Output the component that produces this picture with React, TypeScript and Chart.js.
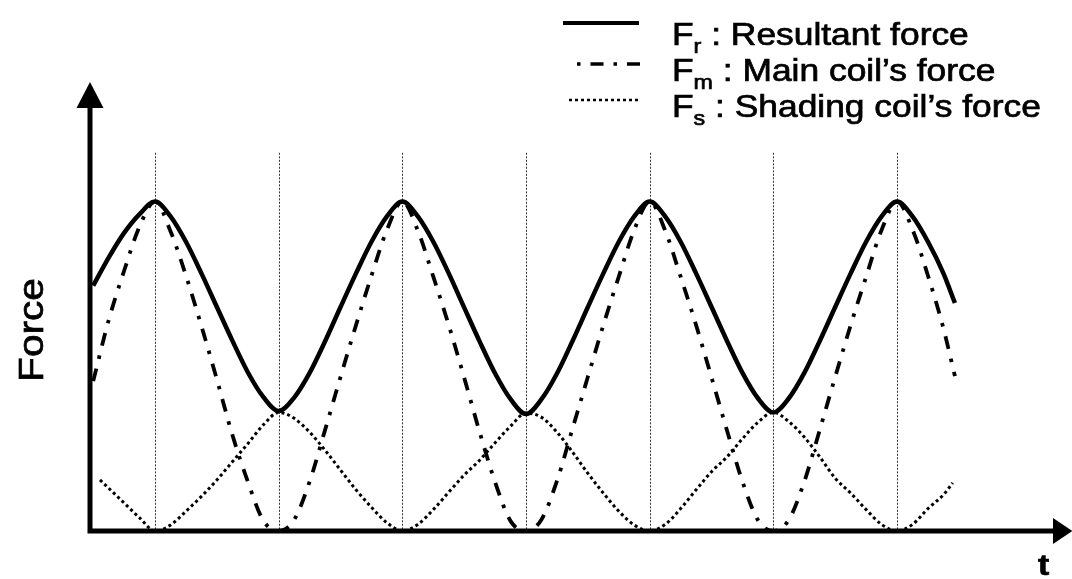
import { useEffect, useRef } from "react";
import { Chart, registerables } from "chart.js";

Chart.register(...registerables);

// Sample times (t axis units) shared by the resultant and main-coil curves
const timeSteps = [
  0, 0.125, 0.25, 0.375, 0.5, 0.625, 0.75, 0.875,
  1, 1.125, 1.25, 1.375, 1.5, 1.625, 1.75, 1.875,
  2, 2.125, 2.25, 2.375, 2.5, 2.625, 2.75, 2.875,
  3, 3.125, 3.25, 3.375, 3.5, 3.625, 3.75, 3.875,
  4, 4.125, 4.25, 4.375, 4.5, 4.625, 4.75, 4.875,
  5, 5.125, 5.25, 5.375, 5.5, 5.625, 5.75, 5.875,
  6, 6.125, 6.25, 6.375, 6.5, 6.625, 6.75, 6.875,
  6.968,
];

// F_r : resultant force
const resultantForce = [
  0.745, 0.83, 0.905, 0.962, 1.0, 0.955, 0.878, 0.782,
  0.68, 0.578, 0.482, 0.407, 0.364, 0.405, 0.48, 0.576,
  0.68, 0.782, 0.878, 0.955, 1.0, 0.955, 0.878, 0.782,
  0.678, 0.575, 0.478, 0.4, 0.355, 0.4, 0.478, 0.576,
  0.68, 0.782, 0.878, 0.955, 1.0, 0.955, 0.878, 0.782,
  0.68, 0.577, 0.48, 0.403, 0.36, 0.403, 0.48, 0.577,
  0.68, 0.782, 0.878, 0.955, 1.0, 0.955, 0.878, 0.782,
  0.692,
];

// F_m : main coil's force
const mainCoilForce = [
  0.455, 0.64, 0.79, 0.925, 1.0, 0.91, 0.775, 0.622,
  0.46, 0.292, 0.15, 0.032, 0.0, 0.034, 0.15, 0.307,
  0.468, 0.625, 0.775, 0.914, 1.0, 0.912, 0.772, 0.625,
  0.465, 0.3, 0.148, 0.03, 0.0, 0.035, 0.152, 0.31,
  0.468, 0.625, 0.772, 0.914, 1.0, 0.912, 0.772, 0.625,
  0.466, 0.305, 0.15, 0.033, 0.0, 0.034, 0.15, 0.307,
  0.468, 0.625, 0.772, 0.914, 1.0, 0.915, 0.775, 0.615,
  0.47,
];

// Sample times for the shading-coil curve
const shadingTimeSteps = [
  0.055, 0.125, 0.25, 0.375, 0.5, 0.625, 0.75, 0.875,
  1, 1.125, 1.25, 1.375, 1.5, 1.625, 1.75, 1.875,
  2, 2.125, 2.25, 2.375, 2.5, 2.625, 2.75, 2.875,
  3, 3.125, 3.25, 3.375, 3.5, 3.625, 3.75, 3.875,
  4, 4.125, 4.25, 4.375, 4.5, 4.625, 4.75, 4.875,
  5, 5.125, 5.25, 5.375, 5.5, 5.625, 5.75, 5.875,
  6, 6.125, 6.25, 6.375, 6.5, 6.625, 6.75, 6.875,
  6.95,
];

// F_s : shading coil's force
const shadingCoilForce = [
  0.155, 0.13, 0.085, 0.04, 0.0, 0.018, 0.06, 0.105,
  0.155, 0.21, 0.265, 0.322, 0.36, 0.342, 0.3, 0.245,
  0.185, 0.125, 0.072, 0.025, 0.0, 0.02, 0.065, 0.118,
  0.17, 0.215, 0.268, 0.318, 0.358, 0.345, 0.3, 0.24,
  0.175, 0.115, 0.06, 0.018, 0.0, 0.02, 0.068, 0.125,
  0.18, 0.225, 0.28, 0.33, 0.36, 0.332, 0.285, 0.225,
  0.16, 0.115, 0.065, 0.02, 0.0, 0.02, 0.068, 0.11,
  0.146,
];

// Vertical reference lines at the peaks and troughs
const gridTimes = [0.5, 1.5, 2.5, 3.5, 4.5, 5.5, 6.5];
const gridTop = 1.148;

const legendEntries = [
  { main: "F", sub: "r", text: " : Resultant force", style: "solid" },
  { main: "F", sub: "m", text: " : Main coil\u2019s force", style: "dashdot" },
  { main: "F", sub: "s", text: " : Shading coil\u2019s force", style: "dotted" },
];

const yAxisTitle = "Force";
const xAxisTitle = "t";

const X_MIN = -0.026;
const X_MAX = 7.761;
const Y_MAX = 1.363;

const FONT = "'Liberation Sans', Arial, sans-serif";
const STRETCH = 1.16;
const DASH_DOT = [13, 10, 3.5, 10];
const DOTTED = [3, 3];

function stretchedText(
  ctx: CanvasRenderingContext2D,
  text: string,
  x: number,
  y: number,
  font: string
): number {
  ctx.save();
  ctx.font = font;
  ctx.textAlign = "left";
  ctx.textBaseline = "alphabetic";
  ctx.translate(x, y);
  ctx.scale(STRETCH, 1);
  ctx.lineWidth = 0.7;
  ctx.strokeStyle = "#000";
  ctx.fillText(text, 0, 0);
  ctx.strokeText(text, 0, 0);
  const w = ctx.measureText(text).width * STRETCH;
  ctx.restore();
  return w;
}

const decorPlugin = {
  id: "forceDecor",
  beforeDatasetsDraw(chart: Chart) {
    const { ctx } = chart;
    const xs = chart.scales.x;
    const ys = chart.scales.y;
    ctx.save();
    ctx.strokeStyle = "#333";
    ctx.lineWidth = 1;
    ctx.setLineDash([2, 1.5]);
    for (const g of gridTimes) {
      const px = Math.round(xs.getPixelForValue(g)) + 0.5;
      ctx.beginPath();
      ctx.moveTo(px, ys.getPixelForValue(gridTop));
      ctx.lineTo(px, ys.getPixelForValue(0));
      ctx.stroke();
    }
    ctx.restore();
  },
  afterDraw(chart: Chart) {
    const { ctx, chartArea } = chart;
    const { left, right, top, bottom } = chartArea;
    ctx.save();
    ctx.fillStyle = "#000";
    ctx.strokeStyle = "#000";
    ctx.setLineDash([]);

    // Axis lines
    ctx.lineWidth = 5;
    ctx.lineCap = "butt";
    ctx.beginPath();
    ctx.moveTo(left, bottom + 2.5);
    ctx.lineTo(left, top + 24);
    ctx.moveTo(left - 2.5, bottom);
    ctx.lineTo(right + 2, bottom);
    ctx.stroke();

    // Arrowheads
    ctx.beginPath();
    ctx.moveTo(left, top);
    ctx.lineTo(left - 13.5, top + 26);
    ctx.lineTo(left + 13.5, top + 26);
    ctx.closePath();
    ctx.fill();
    ctx.beginPath();
    ctx.moveTo(right + 19.5, bottom);
    ctx.lineTo(right, bottom - 13);
    ctx.lineTo(right, bottom + 13);
    ctx.closePath();
    ctx.fill();

    // Axis titles
    ctx.save();
    ctx.translate(43, 330);
    ctx.rotate(-Math.PI / 2);
    ctx.scale(STRETCH, 1);
    ctx.font = `35px ${FONT}`;
    ctx.textAlign = "center";
    ctx.textBaseline = "alphabetic";
    ctx.lineWidth = 0.7;
    ctx.fillText(yAxisTitle, 0, 0);
    ctx.strokeText(yAxisTitle, 0, 0);
    ctx.restore();
    stretchedText(ctx, xAxisTitle, 1038, 575, `bold 29px ${FONT}`);

    // Legend
    const baselines = [45, 81, 117];
    const sampleY = [23, 64, 100];
    legendEntries.forEach((entry, i) => {
      ctx.save();
      ctx.beginPath();
      if (entry.style === "solid") {
        ctx.lineWidth = 4;
        ctx.setLineDash([]);
        ctx.moveTo(563, sampleY[i]);
        ctx.lineTo(639, sampleY[i]);
      } else if (entry.style === "dashdot") {
        ctx.lineWidth = 3.5;
        ctx.setLineDash(DASH_DOT);
        ctx.lineDashOffset = 23;
        ctx.moveTo(577, sampleY[i]);
        ctx.lineTo(641, sampleY[i]);
      } else {
        ctx.lineWidth = 2.5;
        ctx.setLineDash(DOTTED);
        ctx.moveTo(569, sampleY[i]);
        ctx.lineTo(641, sampleY[i]);
      }
      ctx.stroke();
      ctx.restore();

      let x = 672;
      x += stretchedText(ctx, entry.main, x, baselines[i], `30.5px ${FONT}`);
      x += stretchedText(ctx, entry.sub, x, baselines[i] + 8, `20px ${FONT}`);
      stretchedText(ctx, entry.text, x, baselines[i], `30.5px ${FONT}`);
    });

    ctx.restore();
  },
};

export default function App() {
  const canvasRef = useRef<HTMLCanvasElement | null>(null);

  useEffect(() => {
    const canvas = canvasRef.current;
    if (!canvas) return;
    const toPoints = (ts: number[], vs: number[]) =>
      ts.map((t, i) => ({ x: t, y: vs[i] }));

    const chart = new Chart(canvas, {
      type: "line",
      data: {
        datasets: [
          {
            label: "F_r",
            data: toPoints(timeSteps, resultantForce),
            borderColor: "#000",
            borderWidth: 4.5,
            pointRadius: 0,
            fill: false,
            cubicInterpolationMode: "monotone",
          },
          {
            label: "F_m",
            data: toPoints(timeSteps, mainCoilForce),
            borderColor: "#000",
            borderWidth: 3.8,
            borderDash: DASH_DOT,
            borderCapStyle: "butt",
            pointRadius: 0,
            fill: false,
            cubicInterpolationMode: "monotone",
          },
          {
            label: "F_s",
            data: toPoints(shadingTimeSteps, shadingCoilForce),
            borderColor: "#000",
            borderWidth: 3,
            borderDash: DOTTED,
            pointRadius: 0,
            fill: false,
            cubicInterpolationMode: "monotone",
          },
        ],
      },
      options: {
        animation: false,
        responsive: false,
        devicePixelRatio: 1,
        layout: { padding: { left: 90, right: 19, top: 82, bottom: 48 } },
        plugins: {
          legend: { display: false },
          tooltip: { enabled: false },
        },
        scales: {
          x: { type: "linear", min: X_MIN, max: X_MAX, display: false },
          y: { type: "linear", min: 0, max: Y_MAX, display: false },
        },
      },
      plugins: [decorPlugin],
    });
    return () => chart.destroy();
  }, []);

  return (
    <div
      style={{
        position: "absolute",
        left: 0,
        top: 0,
        width: 1072,
        height: 579,
        background: "#fff",
      }}
    >
      <canvas ref={canvasRef} width={1072} height={579} style={{ display: "block" }} />
    </div>
  );
}
